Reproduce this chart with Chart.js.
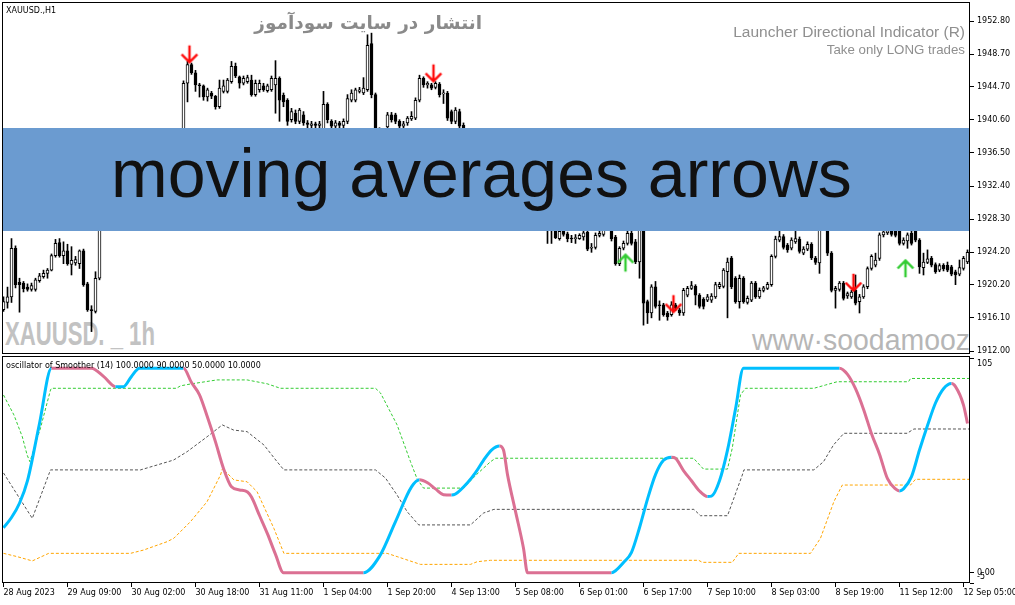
<!DOCTYPE html>
<html>
<head>
<meta charset="utf-8">
<title>XAUUSD H1</title>
<script src="https://cdn.jsdelivr.net/npm/chart.js@4.4.1/dist/chart.umd.min.js"></script>
<style>
  html, body { margin: 0; padding: 0; background: #fff; }
  #wrap { position: relative; width: 1015px; height: 605px; overflow: hidden; background: #fff; }
  canvas { position: absolute; left: 0; z-index: 1; }
  #priceChart { top: 0; }
  #oscChart { top: 356px; }
  .txt { position: absolute; white-space: nowrap; z-index: 2; }
  .wm { position: absolute; white-space: nowrap; z-index: 0; }
  #symbol { left: 6px; top: 6px; font: 8px/10px "DejaVu Sans"; color: #000; }
  #oscTitle { left: 6px; top: 361px; font: 8px/10px "DejaVu Sans"; color: #000; }
  #persian { right: 533px; top: 10px; font: bold 18.5px/26px "DejaVu Sans"; color: #8a8a8a; direction: rtl; }
  #launcher { right: 50px; top: 23px; font: 15.5px/18px "Liberation Sans"; color: #8f8f8f; }
  #longOnly { right: 50px; top: 42px; font: 13.3px/16px "Liberation Sans"; color: #8f8f8f; }
  #wmSymbol { left: 5px; top: 314px; font: bold 33.5px/40px "Liberation Sans"; color: #c2c2c2;
              transform: scaleX(0.66); transform-origin: left top; }
  #wmSite { left: 752px; top: 322px; font: 29px/36px "Liberation Sans"; color: #b6b6b6;
            transform: scaleX(0.98); transform-origin: left top; }
  #banner { position: absolute; left: 3px; top: 128px; width: 966px; height: 103px; z-index: 3;
            background: rgb(107,155,208); color: #111; text-align: center; box-sizing: border-box;
            padding-right: 9px; font: 68px/91px "Liberation Sans"; white-space: nowrap; }
</style>
</head>
<body>
<div id="wrap">
  <div class="wm" id="wmSymbol">XAUUSD. _ 1h</div>
  <div class="wm" id="wmSite">www·soodamooz</div>
  <canvas id="priceChart" width="1015" height="356"></canvas>
  <canvas id="oscChart" width="1015" height="249"></canvas>
  <div class="txt" id="symbol">XAUUSD.,H1</div>
  <div class="txt" id="persian">انتشار در سایت سودآموز</div>
  <div class="txt" id="launcher">Launcher Directional Indicator (R)</div>
  <div class="txt" id="longOnly">Take only LONG trades</div>
  <div class="txt" id="oscTitle">oscillator of Smoother (14) 100.0000 90.0000 50.0000 10.0000</div>
  <div id="banner">moving averages arrows</div>
</div>
<script>
// price candles, one entry per H1 bar (bar 0 = 28 Aug 2023)
const opens = [
  1917.1,1918.0,1918.7,1924.7,1920.5,1920.4,1919.9,1919.6,1919.6,1920.7,
  1921.2,1921.6,1922.0,1923.8,1925.4,1923.8,1924.4,1922.7,1922.9,1922.8,
  1924.4,1920.3,1917.1,1916.9,1921.0,1929.5,1930.8,1931.5,1931.0,1932.7,
  1932.2,1931.6,1932.8,1933.9,1933.4,1933.0,1933.5,1934.7,1935.2,1934.5,
  1935.0,1936.1,1935.7,1936.2,1937.0,1936.8,1945.1,1947.4,1946.4,1944.9,
  1944.8,1943.4,1943.9,1943.5,1942.2,1944.1,1944.1,1945.3,1947.2,1945.9,
  1945.1,1945.3,1945.5,1943.7,1944.3,1944.8,1944.2,1944.3,1944.9,1945.7,
  1943.6,1943.0,1940.6,1941.4,1940.4,1941.2,1940.2,1939.9,1940.1,1939.9,
  1939.0,1942.5,1940.4,1939.8,1940.2,1939.9,1940.4,1943.0,1943.0,1944.1,
  1943.9,1944.3,1950.0,1943.7,1938.6,1939.2,1939.7,1941.2,1941.2,1940.4,
  1939.8,1940.2,1940.7,1940.8,1943.0,1945.7,1944.9,1944.9,1944.6,1945.0,
  1943.8,1943.9,1941.6,1940.4,1941.6,1939.9,1939.4,1938.8,1938.1,1938.6,
  1937.8,1936.7,1937.2,1936.1,1935.0,1935.4,1933.8,1932.5,1933.0,1931.5,
  1930.4,1931.0,1929.5,1928.8,1929.3,1928.2,1927.7,1927.0,1927.3,1925.9,
  1926.8,1926.5,1925.9,1925.9,1925.9,1926.1,1926.7,1924.7,1924.8,1926.3,
  1926.4,1927.2,1927.2,1926.1,1922.8,1924.7,1925.3,1926.55,1925.5,1923.0,
  1926.8,1918.1,1916.7,1919.95,1917.7,1917.7,1916.7,1916.5,1917.7,1917.1,
  1916.7,1918.9,1919.75,1920.0,1918.9,1918.4,1918.3,1918.3,1918.7,1919.95,
  1920.0,1921.8,1923.5,1921.0,1918.1,1921.0,1918.0,1918.3,1920.4,1918.7,
  1919.5,1919.75,1920.2,1923.7,1925.7,1926.15,1925.1,1924.7,1925.5,1925.85,
  1924.1,1924.6,1925.2,1923.5,1922.9,1927.3,1928.0,1924.1,1919.5,1919.6,
  1920.4,1918.8,1918.7,1919.5,1918.1,1918.7,1919.95,1922.2,1922.6,1923.45,
  1926.35,1926.6,1926.9,1926.8,1926.8,1925.3,1925.6,1926.55,1927.0,1925.7,
  1922.3,1922.95,1923.45,1922.7,1922.0,1922.6,1922.6,1922.4,1921.8,1921.5,
  1922.2,1923.0
];
const highs = [
  1918.7,1919.9,1925.9,1925.0,1921.0,1920.6,1920.3,1920.4,1921.0,1921.6,
  1922.0,1922.2,1924.0,1925.8,1925.9,1925.5,1925.2,1924.9,1923.7,1924.5,
  1924.6,1920.5,1917.6,1921.8,1930.2,1931.2,1932.0,1932.4,1933.1,1933.5,
  1932.9,1933.0,1934.2,1934.6,1934.1,1933.8,1935.0,1935.6,1935.9,1935.3,
  1936.4,1936.8,1936.5,1937.4,1937.8,1945.4,1947.8,1947.6,1946.7,1945.1,
  1944.9,1944.5,1944.1,1943.6,1945.5,1945.5,1945.7,1947.8,1947.6,1946.0,
  1946.0,1946.1,1946.1,1945.5,1945.5,1945.1,1945.0,1946.0,1947.9,1945.9,
  1943.9,1943.2,1942.0,1941.8,1942.0,1941.6,1940.5,1940.4,1940.3,1940.4,
  1944.1,1942.7,1940.6,1940.5,1940.4,1940.7,1943.7,1944.3,1944.5,1944.6,
  1945.8,1951.1,1951.3,1943.9,1939.6,1939.5,1941.5,1941.5,1941.4,1940.6,
  1940.4,1941.0,1941.6,1943.3,1946.1,1945.9,1945.3,1945.1,1945.3,1945.2,
  1944.3,1944.1,1941.8,1942.1,1941.9,1940.2,1939.5,1939.3,1938.9,1939.2,
  1938.3,1937.5,1937.9,1936.6,1935.8,1935.9,1934.2,1933.4,1933.6,1932.0,
  1931.3,1931.5,1930.1,1929.7,1929.8,1928.9,1928.1,1928.0,1927.6,1927.2,
  1927.1,1926.7,1926.3,1926.4,1926.5,1926.8,1926.9,1925.3,1926.6,1926.9,
  1927.6,1928.0,1927.6,1926.3,1924.9,1925.6,1926.8,1926.9,1925.8,1927.6,
  1927.1,1918.3,1920.2,1920.6,1918.2,1917.9,1916.9,1918.1,1917.9,1917.3,
  1919.75,1920.0,1920.6,1920.2,1919.1,1918.6,1919.0,1919.1,1920.5,1920.5,
  1922.2,1923.5,1923.7,1921.2,1921.4,1921.2,1918.8,1920.6,1920.6,1919.8,
  1920.0,1920.5,1923.9,1926.2,1927.0,1926.4,1925.3,1926.0,1927.0,1926.1,
  1924.9,1925.5,1925.4,1923.7,1927.8,1928.8,1928.3,1924.3,1920.0,1920.6,
  1920.6,1919.3,1919.5,1921.4,1919.0,1920.2,1922.4,1923.9,1924.1,1926.6,
  1927.2,1927.3,1927.3,1927.2,1927.1,1926.0,1926.6,1926.9,1927.6,1925.9,
  1924.1,1924.5,1923.7,1922.9,1922.8,1922.8,1923.0,1922.6,1922.0,1923.25,
  1923.7,1924.5
];
const lows = [
  1916.9,1917.3,1918.0,1919.8,1916.8,1919.3,1919.4,1919.4,1919.4,1920.5,
  1921.0,1921.0,1921.9,1923.6,1923.6,1922.8,1922.6,1921.4,1922.6,1922.2,
  1920.0,1916.9,1914.4,1916.7,1920.8,1929.0,1930.1,1930.6,1930.8,1931.9,
  1931.2,1931.3,1932.5,1933.0,1932.6,1932.2,1933.2,1934.0,1934.1,1933.8,
  1934.8,1935.3,1935.0,1935.9,1936.3,1936.5,1942.8,1946.2,1944.1,1943.4,
  1943.0,1942.9,1943.2,1941.9,1942.0,1943.9,1943.9,1945.1,1945.8,1944.5,
  1944.9,1945.1,1943.5,1943.5,1944.0,1944.1,1944.0,1944.1,1941.4,1940.4,
  1942.2,1939.9,1940.3,1940.1,1940.1,1939.9,1939.6,1939.6,1939.5,1939.6,
  1938.8,1940.2,1939.4,1939.3,1939.5,1939.6,1940.1,1942.8,1942.8,1943.9,
  1943.7,1944.1,1943.3,1938.0,1938.2,1938.4,1939.4,1940.3,1940.1,1939.5,
  1939.5,1939.9,1940.5,1940.6,1942.8,1944.6,1944.5,1944.3,1944.4,1943.4,
  1942.6,1940.5,1940.1,1940.1,1939.5,1939.2,1938.4,1937.6,1937.2,1937.5,
  1936.4,1936.0,1935.8,1934.7,1934.3,1933.5,1932.1,1931.8,1931.2,1930.1,
  1929.8,1929.2,1928.4,1928.1,1927.9,1927.4,1925.3,1925.3,1925.9,1925.7,
  1926.2,1925.5,1925.4,1925.3,1925.8,1925.7,1924.4,1924.2,1924.6,1926.1,
  1926.2,1927.0,1925.6,1922.6,1922.55,1924.5,1925.1,1925.1,1922.8,1921.0,
  1915.2,1915.4,1916.1,1917.3,1915.8,1916.3,1915.8,1916.3,1917.0,1916.4,
  1916.4,1918.7,1919.6,1917.7,1917.3,1917.2,1918.1,1918.0,1918.5,1919.7,
  1919.8,1916.1,1919.7,1917.9,1917.3,1917.9,1917.8,1918.1,1918.5,1918.5,
  1919.3,1919.6,1920.0,1923.5,1925.5,1924.6,1924.2,1924.5,1925.3,1924.1,
  1923.9,1924.4,1923.3,1922.7,1921.6,1926.9,1923.8,1919.3,1917.3,1919.4,
  1918.3,1918.5,1918.5,1917.7,1916.7,1918.5,1919.7,1922.0,1922.4,1923.2,
  1926.1,1926.4,1926.2,1926.1,1925.1,1925.1,1924.7,1925.1,1925.5,1921.6,
  1921.4,1922.8,1922.4,1921.6,1921.8,1921.9,1921.8,1921.3,1920.2,1921.3,
  1922.0,1922.8
];
const closes = [
  1918.1,1918.7,1924.7,1920.2,1920.2,1919.7,1919.6,1920.1,1920.8,1921.3,
  1921.6,1922.0,1923.8,1925.3,1923.8,1924.4,1922.8,1923.2,1923.3,1924.4,
  1920.2,1917.1,1917.0,1921.0,1929.5,1930.8,1931.5,1931.0,1932.7,1932.2,
  1931.6,1932.8,1933.9,1933.4,1933.0,1933.5,1934.7,1935.2,1934.5,1935.0,
  1936.1,1935.7,1936.2,1937.0,1936.8,1945.1,1947.4,1946.4,1944.9,1944.8,
  1943.4,1944.3,1943.5,1942.2,1944.5,1944.8,1945.5,1947.2,1946.0,1945.1,
  1945.7,1945.8,1943.7,1945.1,1945.1,1944.3,1944.8,1945.7,1945.7,1943.0,
  1942.8,1940.4,1941.6,1940.4,1941.8,1940.2,1940.0,1940.1,1939.9,1940.1,
  1942.5,1940.6,1939.8,1940.2,1939.9,1940.4,1943.2,1943.9,1944.3,1944.3,
  1944.5,1949.8,1943.7,1938.5,1939.2,1939.0,1941.2,1940.6,1940.4,1939.8,
  1940.1,1940.8,1941.0,1943.0,1945.7,1944.9,1945.1,1944.5,1945.1,1943.7,
  1943.9,1940.8,1940.4,1941.8,1939.8,1939.6,1938.8,1938.1,1938.6,1937.8,
  1936.7,1937.2,1936.1,1935.0,1935.4,1933.8,1932.5,1933.0,1931.5,1930.4,
  1931.0,1929.5,1928.8,1929.3,1928.2,1927.7,1927.0,1927.4,1926.0,1926.8,
  1926.4,1925.9,1925.85,1926.0,1926.3,1926.6,1924.6,1924.8,1926.3,1926.55,
  1927.2,1927.5,1925.9,1922.8,1924.7,1925.3,1926.55,1925.3,1923.0,1927.0,
  1917.9,1916.7,1919.95,1917.5,1917.6,1916.5,1916.2,1917.7,1917.3,1916.7,
  1919.5,1919.75,1920.1,1918.9,1917.5,1917.5,1918.7,1918.8,1920.2,1920.25,
  1922.0,1923.0,1919.95,1918.1,1921.0,1918.1,1918.5,1920.4,1918.7,1919.5,
  1919.8,1920.25,1923.7,1925.85,1926.15,1924.8,1924.5,1925.7,1925.9,1924.3,
  1924.6,1925.2,1923.5,1922.95,1927.3,1928.2,1924.1,1919.5,1919.75,1920.4,
  1918.5,1919.1,1919.3,1917.9,1918.7,1919.95,1922.2,1923.7,1923.25,1926.35,
  1926.75,1926.9,1926.4,1926.3,1925.3,1925.7,1926.35,1925.3,1925.7,1922.4,
  1923.0,1923.4,1922.6,1921.8,1922.55,1922.15,1922.0,1921.5,1921.4,1922.3,
  1923.45,1924.2
];

const priceTicks = [1952.8, 1948.7, 1944.7, 1940.6, 1936.5, 1932.4, 1928.3, 1924.2, 1920.2, 1916.1, 1912.0];

// signal arrows: bar index and price at the arrow tip
const downArrowBars = [46, 107, 167, 212];
const downArrowPrices = [1947.65, 1945.3, 1916.78, 1919.42];
const upArrowBars = [155, 225];
const upArrowPrices = [1923.95, 1923.25];

// oscillator of Smoother (14): main line, its colour (1 rising / -1 falling)
const oscBars = [0,2,4,6,9,12,22,25,28,30,32,34,45,47,49,51,53,55,57,59,61,62,64,66,68,70,90,94,98,102,104,106,108,110,112,113,116,118,120,122,124,125,126,128,130,131,152,153,155,157,159,161,163,165,167,168,170,172,174,176,177,179,181,183,185,209,211,213,215,217,219,221,223,224,225,227,229,231,233,235,237,238,240,241];
const oscValues = [22,27,34,45,73,100,100,96,91,91,96,100,100,93,87,76,64,51,42,40.5,39.5,37,28,19,9,0,0,8,25,42,45.5,44,41,38.2,38,38.5,44,49,55,60,62,60,48,30,12,0,0,1,5,10,22,36,48,55,56.5,56,50,45,40,37.3,37.5,45,60,80,100,100,97,90,80,68,58,46,41,40,41,47,60,72,83,90,92.5,91,82,73];
const oscTrend = [1,1,1,1,1,1,-1,-1,-1,1,1,1,1,-1,-1,-1,-1,-1,-1,-1,-1,-1,-1,-1,-1,-1,-1,1,1,1,1,-1,-1,-1,-1,1,1,1,1,1,1,-1,-1,-1,-1,-1,-1,1,1,1,1,1,1,1,1,-1,-1,-1,-1,-1,1,1,1,1,1,1,-1,-1,-1,-1,-1,-1,-1,-1,1,1,1,1,1,1,1,-1,-1,-1];

// dynamic levels
const greenBars = [0,2.6,4.7,5.9,6.6,9.25,11.75,12,43.25,44.25,46.75,53.4,60.9,65.9,69.25,93,94.25,98.4,101.75,103.4,105,115,118.25,121.75,123,172.5,175,181,182.2,184.25,185.5,202.6,205.5,208.4,226.25,226.75,241.6];
const greenValues = [86.9,77.2,66.5,57.6,54.3,70.8,89.4,90.2,90.2,91.4,92.3,94.3,94.3,92.4,90.2,90.2,87.9,72.3,54.3,45.9,41.4,41.4,48,54.3,56,56,50.7,50.7,61,87,90.2,90.2,91.8,93.4,93.4,95,95];
const grayBars = [0,7.2,11.3,11.75,34.25,38.4,42.5,45.9,50.9,54.7,57.5,60.9,65.1,68.4,70.1,93,95.5,98.4,100.9,103.8,116.75,120,122.6,172.6,174.25,181,184.7,185.1,202.6,205,207.5,210.1,225.9,227.6,241.6];
const grayValues = [48.8,26.6,48,50.3,50.3,52.7,55.1,59.2,66.5,72.3,69.8,69,62.5,54.3,50.3,50.3,46.3,38,29.9,23.4,23.4,29.2,31,31,27.9,27.9,47.8,50.3,50.3,54.3,62.5,68.2,68.2,70.3,70.3];
const orangeBars = [0,3.4,7.2,11.3,31.75,35,40.9,42.6,46.75,50.9,54.25,54.75,57.6,60.9,63.4,67.6,70.1,95.9,98.4,104.25,116.75,118.4,121.75,173.8,174.7,182.2,183.8,201.75,204.25,207.6,209.7,226.75,228,241.6];
const orangeValues = [9.5,7.9,5.8,9.5,9.5,11.1,15.2,16.9,25,34.8,47.8,51,45.4,44.5,39.6,21.7,9.5,9.5,7.9,4.1,4.1,5.4,6.1,6.1,5.1,5.1,9.5,9.5,16.9,34.8,42.9,42.9,45.7,45.7];

const timeTickBars = [0,16,32,48,64,80,96,112,128,144,160,176,192,208,224,240];
const timeLabels = ['28 Aug 2023','29 Aug 09:00','30 Aug 02:00','30 Aug 18:00','31 Aug 11:00','1 Sep 04:00',
  '1 Sep 20:00','4 Sep 13:00','5 Sep 08:00','6 Sep 01:00','6 Sep 17:00','7 Sep 10:00','8 Sep 03:00',
  '8 Sep 19:00','11 Sep 12:00','12 Sep 05:00'];
const oscTicks = [105, 0, -5];
const oscTickLabels = ['105', '0.00', '-5'];

Chart.defaults.font.family = "'DejaVu Sans'";
Chart.defaults.font.size = 8;
Chart.defaults.color = '#000';

const X_MIN = -0.375, X_MAX = 241.625;

function frame(insetTop) {
  return {
    id: 'frame',
    afterDraw(chart) {
      const a = chart.chartArea, ctx = chart.ctx;
      ctx.save();
      ctx.strokeStyle = '#000';
      ctx.lineWidth = 1;
      const top = a.top + insetTop;
      ctx.strokeRect(a.left + 0.5, top, a.right - a.left - 1, a.bottom - top - 0.5);
      ctx.restore();
    }
  };
}

// keep the plot area fixed: no room reserved for half tick labels
function fixY(s) { s.width = 45; s.paddingTop = 0; s.paddingBottom = 0; }
function fixX(s) { s.height = 22; s.paddingLeft = 0; s.paddingRight = 0; }

// MT4 keeps the first/last scale labels inside the window
const nudgeOscLabels = {
  id: 'nudgeOscLabels',
  beforeDraw(chart) {
    const items = chart.scales.y.getLabelItems();
    if (items.length === 3) {
      items[0].options.translation[1] += 6;
      items[2].options.translation[1] -= 6;
    }
  }
};

function makeArrow(color, up) {
  const c = document.createElement('canvas');
  c.width = 30; c.height = 44;
  const g = c.getContext('2d');
  g.strokeStyle = color;
  g.lineWidth = 2.4;
  g.lineCap = 'square';
  g.beginPath();
  if (up) {
    g.moveTo(17, 23); g.lineTo(17, 38);
    g.moveTo(10, 29.5); g.lineTo(17, 22.5); g.lineTo(24, 29.5);
  } else {
    g.moveTo(17, 6); g.lineTo(17, 21);
    g.moveTo(10, 14.5); g.lineTo(17, 21.5); g.lineTo(24, 14.5);
  }
  g.stroke();
  return c;
}

new Chart(document.getElementById('priceChart'), {
  type: 'bar',
  data: {
    datasets: [
      {
        label: 'wicks',
        data: lows.map((l, i) => ({ x: i, y: [l, highs[i]] })),
        backgroundColor: '#000',
        borderWidth: 0,
        barThickness: 1,
        grouped: false,
        order: 3
      },
      {
        label: 'bodies',
        data: opens.map((o, i) => ({ x: i, y: [o, closes[i]] })),
        backgroundColor: opens.map((o, i) => closes[i] >= o ? '#fff' : '#000'),
        borderColor: '#000',
        borderWidth: 1,
        borderSkipped: false,
        barThickness: 3,
        minBarLength: 1,
        grouped: false,
        order: 2
      },
      {
        type: 'scatter',
        label: 'sell',
        data: downArrowBars.map((b, i) => ({ x: b, y: downArrowPrices[i] })),
        pointStyle: makeArrow('#ff0a0a', false),
        pointRadius: 1,
        order: 1
      },
      {
        type: 'scatter',
        label: 'buy',
        data: upArrowBars.map((b, i) => ({ x: b, y: upArrowPrices[i] })),
        pointStyle: makeArrow('#33cc33', true),
        pointRadius: 1,
        order: 1
      }
    ]
  },
  options: {
    responsive: false,
    animation: false,
    events: [],
    layout: { autoPadding: false, padding: { left: 2, top: 2, right: 0, bottom: 2 } },
    plugins: { legend: { display: false }, tooltip: { enabled: false } },
    scales: {
      x: { type: 'linear', min: X_MIN, max: X_MAX, offset: false, display: false },
      y: {
        position: 'right',
        min: 1911.63,
        max: 1955.15,
        afterFit: fixY,
        afterBuildTicks: s => { s.ticks = priceTicks.map(v => ({ value: v })); },
        ticks: { callback: v => v.toFixed(2), padding: 3, color: '#000' },
        grid: { drawOnChartArea: false, tickLength: 4, color: '#000' },
        border: { display: false }
      }
    }
  },
  plugins: [frame(0.5)]
});

const pts = (xs, ys) => xs.map((x, i) => ({ x: x, y: ys[i] }));

new Chart(document.getElementById('oscChart'), {
  type: 'line',
  data: {
    datasets: [
      {
        label: 'Smoother',
        data: pts(oscBars, oscValues),
        borderWidth: 3,
        pointRadius: 0,
        cubicInterpolationMode: 'monotone',
        borderColor: '#00bfff',
        segment: { borderColor: c => oscTrend[c.p1DataIndex] > 0 ? '#00bfff' : '#db7093' },
        order: 1
      },
      {
        label: 'upper',
        data: pts(greenBars, greenValues),
        borderColor: '#33cc33', borderWidth: 1, borderDash: [3, 2], pointRadius: 0, order: 2
      },
      {
        label: 'middle',
        data: pts(grayBars, grayValues),
        borderColor: '#555', borderWidth: 1, borderDash: [3, 2], pointRadius: 0, order: 2
      },
      {
        label: 'lower',
        data: pts(orangeBars, orangeValues),
        borderColor: '#ffa500', borderWidth: 1, borderDash: [3, 2], pointRadius: 0, order: 2
      }
    ]
  },
  options: {
    responsive: false,
    animation: false,
    events: [],
    layout: { autoPadding: false, padding: { left: 2, top: 1, right: 0, bottom: 0 } },
    plugins: { legend: { display: false }, tooltip: { enabled: false } },
    scales: {
      x: {
        type: 'linear', min: X_MIN, max: X_MAX, offset: false,
        afterFit: fixX,
        afterBuildTicks: s => { s.ticks = timeTickBars.map(v => ({ value: v })); },
        ticks: { autoSkip: false, maxRotation: 0, minRotation: 0, align: 'start', padding: 1,
                 color: '#000', callback: (v, i) => timeLabels[i] },
        grid: { drawOnChartArea: false, tickLength: 4, color: '#000' },
        border: { display: false }
      },
      y: {
        position: 'right',
        min: -5,
        max: 105.5,
        afterFit: fixY,
        afterBuildTicks: s => { s.ticks = oscTicks.map(v => ({ value: v })); },
        ticks: { callback: (v, i) => oscTickLabels[i], padding: 3, color: '#000' },
        grid: { drawOnChartArea: false, tickLength: 4, color: '#000' },
        border: { display: false }
      }
    }
  },
  plugins: [frame(-0.5), nudgeOscLabels]
});
</script>
</body>
</html>
